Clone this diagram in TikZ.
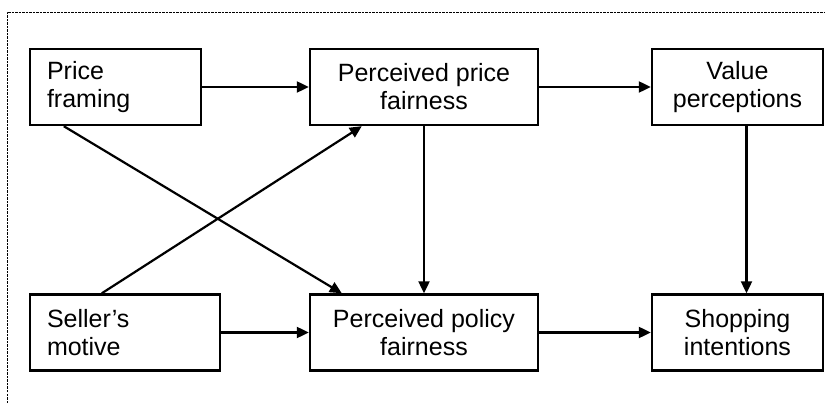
\documentclass[tikz,border=0pt]{standalone}
\usepackage{fontspec}
\setmainfont{Liberation Sans}
\usetikzlibrary{positioning, arrows.meta}

\tikzset{
  box/.style={draw, line width=2.4pt, minimum height=76pt, inner xsep=17pt,
    font=\fontsize{25}{28}\selectfont},
  lbox/.style={box, align=left},
  cbox/.style={box, align=center},
  link/.style={line width=2.2pt, -{Triangle[length=12pt,width=11pt]}},
  frame/.style={line width=0.8pt, dash pattern=on 2.5pt off 1pt}
}

\begin{document}
\begin{tikzpicture}[x=1pt, y=-1pt]
\useasboundingbox (0,0) rectangle (825,403);

% Rahmen (oben und links)
\draw[frame] (7,403) -- (7,12) -- (825,12);

% obere Reihe
\node[lbox, minimum width=171pt, text width=137pt] (framing) at (115.5,87) {Price\\framing};
\node[cbox, minimum width=228pt] (pricefair) at (424,87) {Perceived price\\fairness};
\node[cbox, minimum width=171pt] (value) at (737.5,87) {Value\\perceptions};

% untere Reihe
\node[lbox, minimum width=190pt, text width=156pt] (motive) at (125,332.5) {Seller’s\\motive};
\node[cbox, minimum width=228pt] (policyfair) at (424,332.5) {Perceived policy\\fairness};
\node[cbox, minimum width=171pt] (intent) at (737.5,332.5) {Shopping\\intentions};

% horizontale Pfeile
\draw[link] (framing) -- (pricefair);
\draw[link] (pricefair) -- (value);
\draw[link] (motive) -- (policyfair);
\draw[link] (policyfair) -- (intent);

% vertikale Pfeile
\draw[link] (pricefair) -- (policyfair);
\draw[link] ([xshift=9pt]value.south) -- ([xshift=9pt]intent.north);

% gekreuzte Pfeile
\draw[link] ([xshift=35pt]framing.south west) -- ([xshift=33pt]policyfair.north west);
\draw[link] ([xshift=73pt]motive.north west) -- ([xshift=53pt]pricefair.south west);
\end{tikzpicture}
\end{document}
